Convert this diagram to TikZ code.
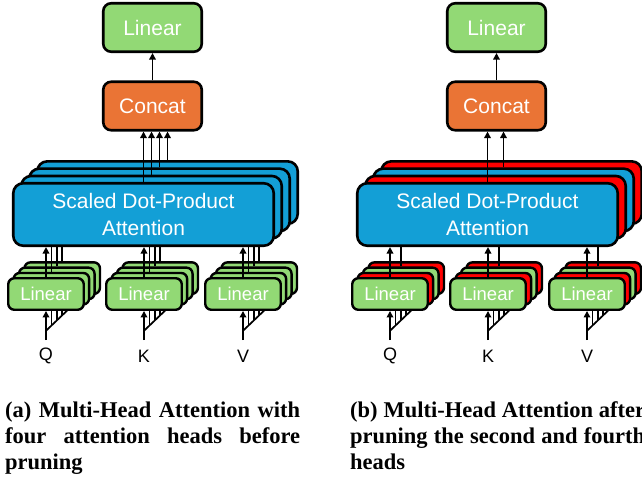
\documentclass[tikz,border=0pt]{standalone}
\usepackage{fontspec}
\setmainfont{Liberation Serif}
\setsansfont{Liberation Sans}
\usetikzlibrary{arrows.meta,calc}
\definecolor{lingreen}{RGB}{146,217,117}
\definecolor{catorange}{RGB}{234,116,53}
\definecolor{attblue}{RGB}{19,159,214}
\definecolor{prunered}{RGB}{255,0,0}
\tikzset{
  box/.style={draw=black, line width=2.6pt, rounded corners=8pt, text=white, inner sep=0pt, font=\sffamily\fontsize{21}{27}\selectfont},
  topbox/.style={box, minimum width=98.5pt, minimum height=48.5pt},
  attbox/.style={box, rounded corners=10pt, minimum width=260.5pt, minimum height=62.5pt, align=center},
  linbox/.style={box, rounded corners=6pt, line width=2.4pt, minimum width=75.5pt, minimum height=31.5pt, font=\sffamily\fontsize{18.5}{22}\selectfont},
  conn/.style={draw=black, line width=1.7pt},
  arr/.style={conn, -{Triangle[length=6.5pt,width=6.5pt]}},
  lbl/.style={font=\sffamily\fontsize{18}{22}\selectfont, inner sep=0pt},
  captext/.style={text width=295pt, align=justify, inner sep=0pt, font=\bfseries\fontsize{22.5}{26}\selectfont}
}
\begin{document}
\begin{tikzpicture}[x=1pt,y=-1pt]
\useasboundingbox (0,0) rectangle (642,480);
\clip (0,0) rectangle (642,480);
\foreach \p/\ox/\sc/\lc/\pr in {a/0/attblue/lingreen/0, b/344/prunered/prunered/1}{
  % top boxes
  \node[topbox, fill=lingreen] (\p-lin) at ({152.5+\ox},27.5) {Linear};
  \node[topbox, fill=catorange] (\p-cat) at ({152.5+\ox},106) {Concat};
  \draw[arr] (\p-cat) -- (\p-lin);
  % attention heads
  \foreach \i in {3,2,1}{
    \ifodd\i \def\hc{\sc}\else\def\hc{attblue}\fi
    \node[attbox, fill=\hc] (\p-S\i) at ({143.5+\ox+8*\i},{214.5-7.3*\i}) {};
  }
  \node[attbox, fill=attblue] (\p-S0) at ({143.5+\ox},214.5) {Scaled Dot-Product\\Attention};
  \foreach \i in {0,1,2,3}{
    \pgfmathtruncatemacro\keep{(\pr==0)||(mod(\i,2)==0)}
    \ifnum\keep=1 \draw[arr] (\p-S\i.north) -- (\p-S\i.north |- \p-cat.south);\fi
  }
  % linear groups
  \foreach \n/\cx in {Q/46,K/144,V/243}{
    \foreach \i in {3,2,1}{
      \ifodd\i \def\hc{\lc}\else\def\hc{lingreen}\fi
      \node[linbox, fill=\hc] (\p-\n\i) at ({\cx+\ox+5.4*\i},{294-5.3*\i}) {};
    }
    \node[linbox, fill=lingreen] (\p-\n0) at ({\cx+\ox},294) {Linear};
    \foreach \i in {0,1,2,3}{
      \pgfmathtruncatemacro\keep{(\pr==0)||(mod(\i,2)==0)}
      \ifnum\keep=1
        \ifnum\i=0
          \draw[arr] (\p-\n\i.north) -- (\p-\n\i.north |- \p-S0.south);
        \else
          \draw[conn] (\p-\n\i.north) -- (\p-\n\i.north |- \p-S0.south);
        \fi
      \fi
    }
    % input
    \coordinate (\p-\n-br) at ({\cx+\ox},330.75);
    \coordinate (\p-\n-bt) at ({\cx+\ox},340);
    \coordinate (\p-\n-de) at ({\cx+\ox+22},309.75);
    \draw[arr] (\p-\n-bt) -- (\p-\n0.south);
    \draw[conn] (\p-\n-br) -- (\p-\n-de);
    \foreach \j in {1,2,3}{
      \draw[conn] ($(\p-\n-br)!{\j*5.4/22}!(\p-\n-de)$) coordinate (\p-\n-t\j) -- (\p-\n-t\j |- \p-\n0.south);
    }
    \node[lbl] (\p-\n-lab) at ({\cx+\ox},356) {\n};
  }
}
\node[captext, anchor=base west] (capa) at (5,417.3) {(a) Multi-Head Attention with\linebreak four attention heads before\linebreak pruning};
\node[captext, anchor=base west] (capb) at (350,417.3) {(b) Multi-Head Attention after\linebreak pruning the second and fourth\linebreak heads};
\end{tikzpicture}
\end{document}
